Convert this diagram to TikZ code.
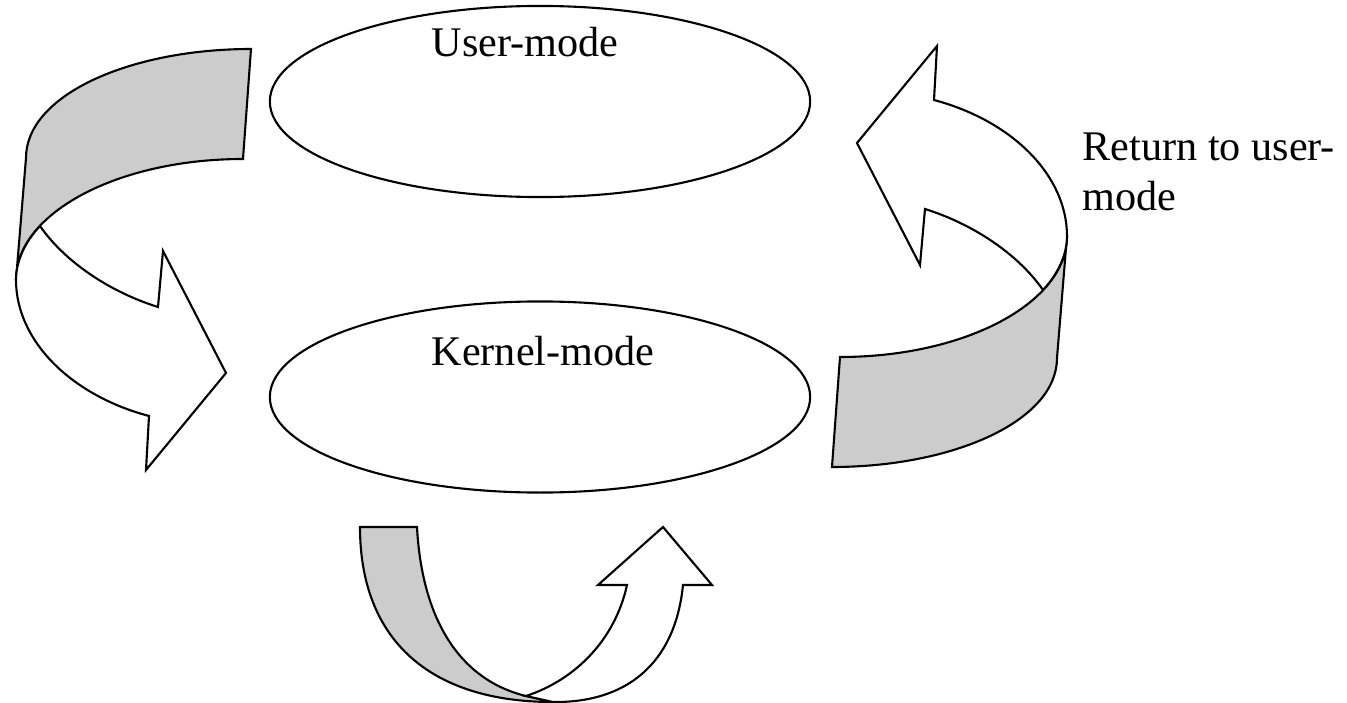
\documentclass[tikz,border=0pt]{standalone}
\usepackage{fontspec}
\setmainfont{Liberation Serif}
\usetikzlibrary{shapes.geometric}
\definecolor{bandgray}{HTML}{CCCCCC}

% one curved 3-D ribbon arrow (gray back strip + white front with head)
\newcommand\ribbonarrow{%
  \filldraw[band] (251,49) .. controls (130,49) and (26,95) .. (26,158)
    -- (16,280) .. controls (16,213) and (118,159) .. (243,159) -- cycle;
  \filldraw[face] (40,226) .. controls (65,262) and (110,292) .. (158,307)
    -- (163,251) -- (226,373) -- (146,470) -- (149,416)
    .. controls (70,395) and (16,340) .. (16,280)
    .. controls (16,261) and (25,242) .. (40,226) -- cycle;
}

\begin{document}
\begin{tikzpicture}[x=0.01cm,y=-0.01cm,
    outline/.style={draw=black,line width=0.6pt},
    band/.style={outline,fill=bandgray,line join=miter},
    face/.style={outline,fill=white,line join=miter},
    modeoval/.style={outline,ellipse,inner sep=0pt,outer sep=0pt,
                     minimum width=5.4cm,minimum height=1.91cm},
    label/.style={inner sep=0pt,anchor=base west,
                  font=\fontsize{12}{15}\selectfont}]
  \useasboundingbox (0,0) rectangle (1347,703);

  % the two modes
  \node[modeoval] (user) at (540,101.5) {};
  \node[modeoval] (kernel) at (540,397) {};
  \node[label] (usertxt) at (431,57) {User-mode};
  \node[label] (kerneltxt) at (431,366) {Kernel-mode};

  % left arrow: user-mode down to kernel-mode
  \ribbonarrow
  % right arrow: kernel-mode back up to user-mode
  \begin{scope}[rotate around={180:(541.5,258)}]
    \ribbonarrow
  \end{scope}

  % bottom U-turn arrow under kernel-mode
  \filldraw[band] (360,527) -- (417,527)
    .. controls (422,620) and (460,680) .. (526,696) -- (553,702)
    .. controls (430,702) and (360,640) .. (360,527) -- cycle;
  \filldraw[face] (526,696) .. controls (575,680) and (615,640) .. (627,585)
    -- (598,585) -- (663,527) -- (712,585) -- (683,585)
    .. controls (675,665) and (625,703) .. (553,702) -- cycle;

  % caption of the right arrow
  \node[label] (ret1) at (1082,160) {Return to user-};
  \node[label] (ret2) at (1082,210) {mode};
\end{tikzpicture}
\end{document}
